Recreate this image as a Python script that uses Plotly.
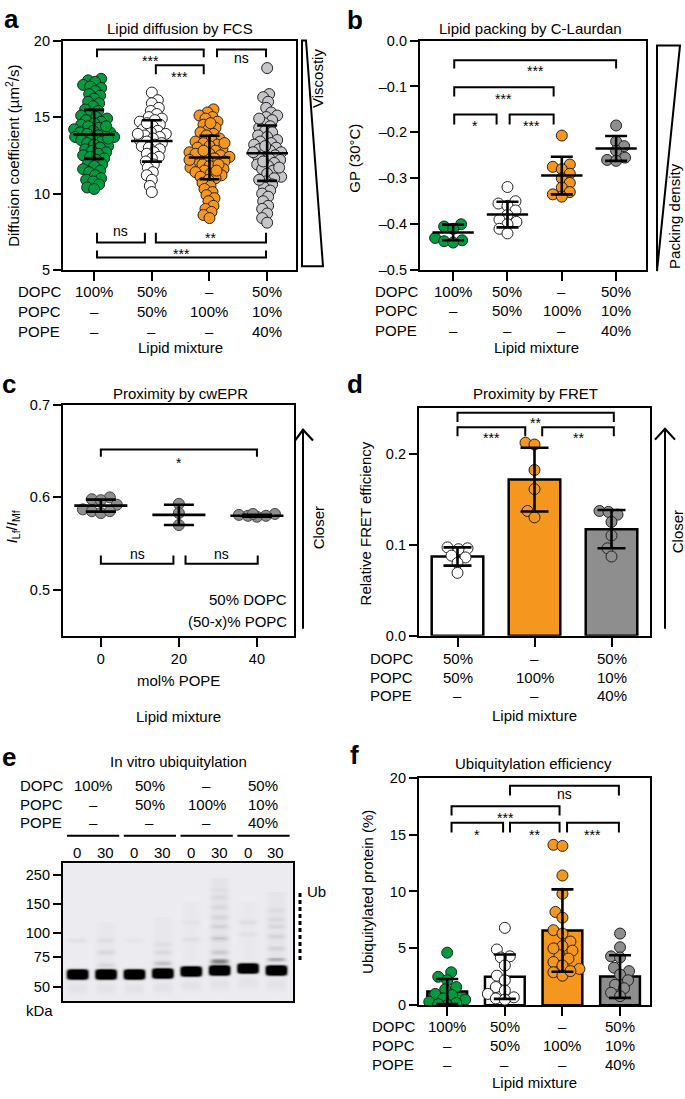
import math
import numpy as np
import plotly.graph_objects as go

W, H = 685, 1099
FONT = "Liberation Sans, Arial, Helvetica, sans-serif"

# ---------------- DATA ----------------
# Panel a: lipid diffusion (µm²/s)
a_dopc = [17.5,17.4,17.3,17.1,17.0,16.9,16.7,16.5,16.4,16.2,16.0,15.9,15.7,15.5,15.4,15.2,15.1,15.0,14.9,14.8,
          14.7,14.6,14.5,14.4,14.3,14.2,14.1,14.0,14.0,13.9,13.9,13.8,13.7,13.7,13.6,13.5,13.4,13.3,13.2,13.1,
          13.0,12.9,12.8,12.7,12.6,12.5,12.4,12.3,12.2,12.0,11.9,11.8,11.6,11.5,11.4,11.2,11.0,10.9,10.8,10.6,
          10.4,10.3,13.6,14.4]
a_mix = [16.6,16.1,15.9,15.6,15.4,15.2,15.0,14.9,14.8,14.7,14.5,14.4,14.2,14.1,14.0,13.9,13.8,13.7,13.6,13.5,
         13.4,13.3,13.2,13.1,13.0,12.9,12.7,12.6,12.4,12.3,12.1,11.9,11.7,11.4,11.2,10.9,10.5,10.1,13.9,14.6]
a_popc = [15.5,15.3,15.1,15.0,14.9,14.7,14.5,14.3,14.2,14.0,13.9,13.8,13.6,13.5,13.4,13.3,13.2,13.1,13.0,12.9,
          12.8,12.7,12.6,12.5,12.4,12.4,12.3,12.2,12.1,12.0,11.9,11.8,11.7,11.6,11.5,11.4,11.3,11.2,11.1,11.0,
          10.9,10.7,10.5,10.3,10.1,9.9,9.7,9.5,9.2,9.0,8.8,8.6,8.4,12.6,13.3,11.9,12.2,12.8,11.5,14.6]
a_pope = [18.2,16.5,16.3,16.0,15.6,15.3,15.1,15.0,14.8,14.6,14.4,14.3,14.1,14.0,13.8,13.7,13.5,13.4,13.3,13.2,
          13.0,12.9,12.8,12.7,12.6,12.5,12.4,12.3,12.2,12.0,11.9,11.8,11.6,11.5,11.3,11.1,11.0,10.8,10.6,10.4,
          10.2,10.0,9.8,9.5,9.2,9.0,8.7,8.4,8.1,12.7,13.1,11.7,12.1,14.9,10.9]
a_means = [13.87, 13.44, 12.36, 12.64]
a_sds = [1.60, 1.35, 1.42, 1.81]

# Panel b: GP (30 °C)
b_dopc = [-0.400, -0.405, -0.410, -0.430, -0.435, -0.437, -0.440]
b_mix = [-0.319, -0.350, -0.355, -0.360, -0.370, -0.380, -0.390, -0.395, -0.400, -0.410, -0.420]
b_popc = [-0.207, -0.270, -0.275, -0.280, -0.290, -0.300, -0.310, -0.320, -0.330, -0.335, -0.340]
b_pope = [-0.185, -0.220, -0.230, -0.240, -0.255, -0.260, -0.262]
b_means = [-0.418, -0.379, -0.294, -0.235]
b_sds = [0.017, 0.028, 0.041, 0.027]

# Panel c: cwEPR
c_x = [0, 20, 40]
c_0 = [0.598, 0.600, 0.597, 0.592, 0.587, 0.585, 0.583, 0.585]
c_20 = [0.593, 0.583, 0.570]
c_40 = [0.582, 0.580, 0.579, 0.582, 0.580, 0.581]
c_means = [0.591, 0.581, 0.580]
c_sds = [0.0065, 0.011, 0.001]

# Panel d: FRET
d_mix = [0.096, 0.097, 0.095, 0.088, 0.086, 0.080, 0.069]
d_popc = [0.212, 0.210, 0.182, 0.161, 0.137, 0.130]
d_pope = [0.137, 0.136, 0.133, 0.125, 0.110, 0.096, 0.087]
d_means = [0.087, 0.1715, 0.117]
d_sds = [0.010, 0.035, 0.021]

# Panel f: ubiquitylation efficiency (%)
f_dopc = [4.62, 2.9, 2.5, 2.2, 1.6, 1.4, 1.0, 0.9, 0.6, 0.5, 0.3, 0.2, 0.0, 0.1]
f_mix = [6.8, 4.9, 4.3, 4.2, 3.5, 2.6, 2.2, 1.6, 1.3, 1.0, 0.7, 0.6, 0.5]
f_popc = [14.1, 14.0, 11.4, 9.8, 8.2, 7.7, 6.6, 6.3, 5.6, 5.2, 4.8, 4.4, 4.1, 3.8, 3.5, 3.2, 2.9, 2.6, 3.0, 5.0]
f_pope = [6.3, 5.1, 4.3, 4.2, 3.3, 3.0, 2.7, 2.2, 1.8, 1.5, 1.1, 0.8]
f_means = [1.21, 2.51, 6.56, 2.52]
f_sds = [1.10, 1.95, 3.62, 1.87]

# Composition table
row_names = ["DOPC", "POPC", "POPE"]
comp4 = [["100%", "50%", "–", "50%"], ["–", "50%", "100%", "10%"], ["–", "–", "–", "40%"]]
comp3 = [["50%", "–", "50%"], ["50%", "100%", "10%"], ["–", "–", "40%"]]

# Panel e: gel (lanes, migration distance from gel top in px, intensity)
lanes = [1, 2, 3, 4, 5, 6, 7, 8]
lane_time = ["0", "30", "0", "30", "0", "30", "0", "30"]
mw_labels = ["250", "150", "100", "75", "50"]
mw_pos = [12, 41, 71, 95, 125]
main_pos = [113, 113, 113, 112, 110, 109, 107, 109]
main_int = [1.5, 1.5, 1.5, 1.5, 1.5, 1.5, 1.5, 1.5]
lad_lane = [6, 6, 6, 6, 6, 6, 6, 6, 8, 8, 8, 8, 8, 8, 4, 4, 4, 2, 2, 2, 1, 3, 5, 5, 7, 7]
lad_pos = [100, 90, 76, 64, 55, 45, 35, 27, 98, 86, 74, 64, 57, 48, 102, 90, 82, 104, 90, 78, 78, 78, 77, 60, 60, 72]
lad_int = [0.36, 0.11, 0.11, 0.08, 0.065, 0.055, 0.045, 0.03, 0.2, 0.08, 0.08, 0.065, 0.055, 0.045,
           0.15, 0.065, 0.04, 0.08, 0.075, 0.045, 0.055, 0.03, 0.045, 0.03, 0.055, 0.04]
smear_lane = [6, 8, 4, 2, 5, 7]
smear_top = [15, 30, 55, 60, 40, 40]
smear_bot = [102, 100, 104, 104, 100, 100]
smear_int = [0.035, 0.03, 0.02, 0.018, 0.012, 0.012]

# colours
GREEN = "#009b3e"
ORANGE = "#f5961e"
LGRAY = "#c6c6ca"
DGRAY = "#8e8e8e"
WHITE = "#ffffff"


def PX(x):
    return x / W


def PY(y):
    return 1 - y / H


def swarm(vals, ppx, ppy, d, maxw):
    order = sorted(range(len(vals)), key=lambda i: vals[i])
    placed = []
    offs = [0.0] * len(vals)
    flip = 1
    for i in order:
        y = vals[i] * ppy
        cands = [0.0]
        k = 1
        while k <= maxw:
            cands += [flip * k, -flip * k]
            k += 1
        flip = -flip
        best = None
        bestc, bests = 0.0, -1
        for c in cands:
            md = min([math.hypot(c - a, y - b) for a, b in placed], default=1e9)
            if md >= d:
                best = c
                break
            if md > bests:
                bests, bestc = md, c
        if best is None:
            best = bestc
        placed.append((best, y))
        offs[i] = best / ppx
    return offs


fig = go.Figure()
shapes = []
anns = []
FS = 15


def ann(text, x, y, size=FS, xref="paper", yref="paper", xanchor="center", yanchor="middle",
        angle=0, bold=False, color="black"):
    if bold:
        text = "<b>" + text + "</b>"
    anns.append(dict(text=text, x=x, y=y, xref=xref, yref=yref, xanchor=xanchor, yanchor=yanchor,
                     showarrow=False, textangle=angle, font=dict(family=FONT, size=size, color=color)))


def axname(n, kind):
    return kind if n == 1 else f"{kind}{n}"


def points(n, xs_center, groups, fills, ppx, ppy, d, maxw, size=11, outline="#222222"):
    for xc, vals, fc in zip(xs_center, groups, fills):
        offs = swarm(vals, ppx, ppy, d, maxw)
        fig.add_trace(go.Scatter(
            x=[xc + o for o in offs], y=vals, mode="markers", xaxis=axname(n, "x"), yaxis=axname(n, "y"),
            marker=dict(size=size, color=fc, line=dict(color=outline, width=1)), hoverinfo="skip"))


def meanlines(n, xs_center, means, hw):
    xs, ys = [], []
    for xc, m in zip(xs_center, means):
        xs += [xc - hw, xc + hw, None]
        ys += [m, m, None]
    fig.add_trace(go.Scatter(x=xs, y=ys, mode="lines", line=dict(color="black", width=2.6),
                             xaxis=axname(n, "x"), yaxis=axname(n, "y"), hoverinfo="skip"))


def errbars(n, xs_center, means, sds, capw):
    fig.add_trace(go.Scatter(
        x=xs_center, y=means, mode="markers", marker=dict(size=1, color="rgba(0,0,0,0)"),
        error_y=dict(type="data", array=sds, color="black", thickness=2.6, width=capw),
        xaxis=axname(n, "x"), yaxis=axname(n, "y"), hoverinfo="skip"))


def bracket(n, x0, x1, yline, yleg, label, ylab, size=14, yshift=0):
    xr, yr = axname(n, "x"), axname(n, "y")
    shapes.append(dict(type="path", xref=xr, yref=yr,
                       path=f"M{x0},{yleg} L{x0},{yline} L{x1},{yline} L{x1},{yleg}",
                       line=dict(color="black", width=2)))
    anns.append(dict(text=label, x=(x0 + x1) / 2, y=ylab, xref=xr, yref=yr, showarrow=False,
                     yanchor="middle", yshift=yshift, font=dict(family=FONT, size=size, color="black")))


def table(n, ncat, comp, rows_y, label_x, mix_x, mix_y):
    xr = axname(n, "x")
    for r, (name, yy) in enumerate(zip(row_names, rows_y)):
        ann(name, PX(label_x), PY(yy), xanchor="left")
        for i in range(ncat):
            ann(comp[r][i], i, PY(yy), xref=xr)
    ann("Lipid mixture", PX(mix_x), PY(mix_y))


# ---------------- Panel a ----------------
points(1, [0, 1, 2, 3], [a_dopc, a_mix, a_popc, a_pope], [GREEN, WHITE, ORANGE, LGRAY],
       57.7, 15.53, 6.3, 20)
meanlines(1, [0, 1, 2, 3], a_means, 0.36)
errbars(1, [0, 1, 2, 3], a_means, a_sds, 10)
bracket(1, 0.05, 1.9, 19.42, 18.9, "***", 18.95, yshift=-4)
bracket(1, 2.13, 2.98, 19.42, 18.9, "ns", 18.85)
bracket(1, 1.07, 1.9, 18.39, 17.8, "***", 17.9, yshift=-4)
bracket(1, 0.05, 0.88, 6.8, 7.44, "ns", 7.55)
bracket(1, 1.07, 2.98, 6.8, 7.44, "**", 7.35, yshift=-4)
bracket(1, 0.05, 2.98, 5.83, 6.28, "***", 6.3, yshift=-4)
table(1, 4, comp4, [288, 308, 328], 16, 180, 345)
ann("Lipid diffusion by FCS", PX(180), PY(21))
ann("Diffusion coefficient (µm<sup>2</sup>/s)", PX(13), PY(150), angle=-90)
ann("a", PX(2), PY(11), size=26, bold=True, xanchor="left")
shapes.append(dict(type="path", xref="paper", yref="paper",
                   path=f"M{PX(302)},{PY(33)} L{PX(306)},{PY(33)} L{PX(323)},{PY(262)} L{PX(302)},{PY(262)} Z",
                   line=dict(color="black", width=2)))
ann("Viscostiy", PX(318), PY(72), angle=-90)

# ---------------- Panel b ----------------
points(2, [0, 1, 2, 3], [b_dopc, b_mix, b_popc, b_pope], [GREEN, WHITE, ORANGE, DGRAY],
       54.3, 466, 9, 20)
meanlines(2, [0, 1, 2, 3], b_means, 0.38)
errbars(2, [0, 1, 2, 3], b_means, b_sds, 11)
bracket(2, 0.02, 3.0, -0.043, -0.061, "***", -0.058, yshift=-4)
bracket(2, 0.02, 1.85, -0.102, -0.122, "***", -0.119, yshift=-4)
bracket(2, 0.02, 0.8, -0.161, -0.183, "*", -0.178, yshift=-4)
bracket(2, 1.04, 1.85, -0.161, -0.183, "***", -0.178, yshift=-4)
table(2, 4, comp4, [288, 307, 327], 373, 536, 345)
ann("Lipid packing by C-Laurdan", PX(530), PY(21))
ann("GP (30°C)", PX(355), PY(153), angle=-90)
ann("b", PX(345), PY(12), size=26, bold=True, xanchor="left")
shapes.append(dict(type="path", xref="paper", yref="paper",
                   path=f"M{PX(657)},{PY(38)} L{PX(680)},{PY(38)} L{PX(657)},{PY(267)} Z",
                   line=dict(color="black", width=2)))
ann("Packing density", PX(675), PY(211), angle=-90)

# ---------------- Panel c ----------------
points(3, c_x, [c_0, c_20, c_40], [DGRAY, DGRAY, DGRAY], 3.9, 935, 9, 20, outline="#444444")
meanlines(3, c_x, c_means, 6.8)
errbars(3, c_x, c_means, c_sds, 15)
bracket(3, 0, 40, 0.652, 0.644, "*", 0.642, yshift=-4)
bracket(3, 0, 18.6, 0.528, 0.537, "ns", 0.539)
bracket(3, 21.7, 40.2, 0.528, 0.537, "ns", 0.539)
ann("Proximity by cwEPR", PX(180), PY(391))
ann("<i>I</i><sub>Lf</sub>/<i>I</i><sub>Mf</sub>", PX(12), PY(527), angle=-90)
ann("mol% POPE", PX(178), PY(682))
ann("Lipid mixture", PX(178), PY(719))
ann("50% DOPC", PX(289), PY(600), xanchor="right")
ann("(50-x)% POPC", PX(289), PY(623), xanchor="right")
ann("c", PX(0), PY(382), size=26, bold=True, xanchor="left")
shapes.append(dict(type="line", xref="paper", yref="paper", x0=PX(303), x1=PX(303), y0=PY(630), y1=PY(429),
                   line=dict(color="black", width=2)))
shapes.append(dict(type="path", xref="paper", yref="paper",
                   path=f"M{PX(295)},{PY(439)} L{PX(303)},{PY(428)} L{PX(313)},{PY(439)}",
                   line=dict(color="black", width=2.2)))
ann("Closer", PX(318), PY(528), angle=-90)

# ---------------- Panel d ----------------
fig.add_trace(go.Bar(x=[0, 1, 2], y=d_means, width=0.67, marker=dict(color=[WHITE, ORANGE, DGRAY],
                     line=dict(color="black", width=2.5)), xaxis="x4", yaxis="y4", hoverinfo="skip"))
points(4, [0, 1, 2], [d_mix, d_popc, d_pope], [WHITE, ORANGE, DGRAY], 77, 920, 9, 18)
errbars(4, [0, 1, 2], d_means, d_sds, 14)
bracket(4, 0.0, 2.03, 0.2448, 0.2347, "**", 0.2375, yshift=-4)
bracket(4, 0.0, 0.88, 0.229, 0.219, "***", 0.222, yshift=-4)
bracket(4, 1.1, 2.03, 0.229, 0.219, "**", 0.222, yshift=-4)
table(4, 3, comp3, [660, 679, 698], 368, 534, 718)
ann("Proximity by FRET", PX(535), PY(391))
ann("Relative FRET efficiency", PX(365), PY(523), angle=-90)
ann("d", PX(345), PY(382), size=26, bold=True, xanchor="left")
shapes.append(dict(type="line", xref="paper", yref="paper", x0=PX(665), x1=PX(665), y0=PY(630), y1=PY(428),
                   line=dict(color="black", width=2)))
shapes.append(dict(type="path", xref="paper", yref="paper",
                   path=f"M{PX(655)},{PY(438)} L{PX(665)},{PY(427)} L{PX(675)},{PY(438)}",
                   line=dict(color="black", width=2.2)))
ann("Closer", PX(677), PY(532), angle=-90)

# ---------------- Panel e (gel) ----------------
gx = np.linspace(0.5, 8.6, 231)
gy = np.arange(0, 141, 1.0)
GX, GY = np.meshgrid(gx, gy)
Z = np.zeros_like(GX)
for ln, ps, it in zip(lanes, main_pos, main_int):
    Z += it * np.exp(-((GX - ln) / 0.37) ** 6) * np.exp(-((GY - ps) / 5.0) ** 4)
    Z += 0.04 * np.exp(-((GX - ln) / 0.36) ** 6) * np.exp(-((GY - ps - 14) / 6) ** 2)
for ln, ps, it in zip(lad_lane, lad_pos, lad_int):
    Z += it * np.exp(-((GX - ln) / 0.33) ** 4) * np.exp(-((GY - ps) / 2.6) ** 2)
for ln, t0, t1, it in zip(smear_lane, smear_top, smear_bot, smear_int):
    Z += it * np.exp(-((GX - ln) / 0.33) ** 4) * ((GY >= t0) & (GY <= t1))
Z = np.clip(Z, 0, 1)
fig.add_trace(go.Heatmap(x=gx, y=gy, z=Z, zmin=0, zmax=1, showscale=False, xaxis="x5", yaxis="y5",
                         colorscale=[[0, "#ececf0"], [0.1, "#d6d6da"], [0.35, "#8c8c8e"], [0.7, "#2a2a2a"],
                                     [1, "#000000"]], hoverinfo="skip"))
ann("In vitro ubiquitylation", PX(178), PY(765))
ann("e", PX(0), PY(760), size=26, bold=True, xanchor="left")
for r, (name, yy) in enumerate(zip(row_names, [789, 808, 827])):
    ann(name, PX(18), PY(yy), xanchor="left")
    for k in range(4):
        ann(comp4[r][k], 2 * k + 1.56, PY(yy), xref="x5")
for k in range(4):
    c0 = 2 * k + 1.56
    shapes.append(dict(type="line", xref="x5", yref="paper", x0=c0 - 0.92, x1=c0 + 0.92, y0=PY(840),
                       y1=PY(840), line=dict(color="black", width=2.2)))
for ln, t in zip(lanes, lane_time):
    ann(t, ln, PY(857), xref="x5")
ann("kDa", PX(39), PY(1017))
shapes.append(dict(type="line", xref="paper", yref="paper", x0=PX(300), x1=PX(300), y0=PY(898), y1=PY(968),
                   line=dict(color="black", width=3, dash="4px,3px")))
ann("Ub", PX(305), PY(897), xanchor="left")

# ---------------- Panel f ----------------
fig.add_trace(go.Bar(x=[0, 1, 2, 3], y=f_means, width=0.69,
                     marker=dict(color=[GREEN, WHITE, ORANGE, DGRAY], line=dict(color="black", width=2.5)),
                     xaxis="x6", yaxis="y6", hoverinfo="skip"))
points(6, [0, 1, 2, 3], [f_dopc, f_mix, f_popc, f_pope], [GREEN, WHITE, ORANGE, DGRAY], 57.7, 11.55, 9, 18)
errbars(6, [0, 1, 2, 3], f_means, f_sds, 11)
bracket(6, 1.09, 2.98, 19.28, 18.44, "ns", 18.6)
bracket(6, 0.075, 1.95, 17.49, 16.68, "***", 16.8, yshift=-4)
bracket(6, 0.075, 0.97, 16.04, 15.17, "*", 15.3, yshift=-4)
bracket(6, 1.09, 1.95, 16.04, 15.17, "**", 15.3, yshift=-4)
bracket(6, 2.08, 2.98, 16.04, 15.17, "***", 15.3, yshift=-4)
table(6, 4, comp4, [1034, 1053, 1072], 370, 534, 1090)
ann("Ubiquitylation efficiency", PX(533), PY(767))
ann("Ubiquitylated protein (%)", PX(368), PY(897), angle=-90)
ann("f", PX(348), PY(758), size=26, bold=True, xanchor="left")

# ---------------- Axes ----------------
dom = {1: ((63, 296), (33, 266)), 2: ((420, 646), (33, 266)), 3: ((63, 294), (403, 637)),
       4: ((419, 650), (406, 637)), 5: ((63, 293), (868, 1008)), 6: ((419, 650), (781, 1012))}
xranges = {1: [-0.54, 3.5], 2: [-0.61, 3.55], 3: [-9.7, 49.5], 4: [-0.5, 2.5], 5: [0.5, 8.6], 6: [-0.49, 3.52]}
xticks = {1: [0, 1, 2, 3], 2: [0, 1, 2, 3], 3: c_x, 4: [0, 1, 2], 5: [], 6: [0, 1, 2, 3]}
yranges = {1: [5, 20], 2: [-0.5, 0], 3: [0.45, 0.7], 4: [0, 0.25], 5: [140, 0], 6: [0, 20]}
yticks = {1: ([5, 10, 15, 20], ["5", "10", "15", "20"]),
          2: ([-0.5, -0.4, -0.3, -0.2, -0.1, 0], ["–0.5", "–0.4", "–0.3", "–0.2", "–0.1", "0.0"]),
          3: ([0.5, 0.6, 0.7], ["0.5", "0.6", "0.7"]),
          4: ([0, 0.1, 0.2], ["0.0", "0.1", "0.2"]),
          5: (mw_pos, mw_labels),
          6: ([0, 5, 10, 15, 20], ["0", "5", "10", "15", "20"])}
layout = {}
for n in range(1, 7):
    (x0, x1), (y0, y1) = dom[n]
    common = dict(showline=True, linewidth=2.2, linecolor="black", mirror=True, showgrid=False,
                  zeroline=False, ticks="outside", tickwidth=2.2, tickcolor="black", fixedrange=True,
                  tickfont=dict(family=FONT, size=14.5, color="black"))
    xa = dict(domain=[PX(x0), PX(x1)], anchor=axname(n, "y"), range=xranges[n], ticklen=9,
              showticklabels=(n == 3), **common)
    if xticks[n]:
        xa.update(tickmode="array", tickvals=xticks[n], ticktext=[str(v) for v in xticks[n]])
    else:
        xa.update(ticks="")
    layout["xaxis" if n == 1 else f"xaxis{n}"] = xa
    tv, tt = yticks[n]
    layout["yaxis" if n == 1 else f"yaxis{n}"] = dict(
        domain=[PY(y1), PY(y0)], anchor=axname(n, "x"), range=yranges[n], tickmode="array",
        tickvals=tv, ticktext=tt, ticklen=8, **common)

fig.update_layout(**layout)
fig.update_layout(width=W, height=H, autosize=False, margin=dict(l=0, r=0, t=0, b=0),
                  paper_bgcolor="white", plot_bgcolor="white", showlegend=False,
                  font=dict(family=FONT, size=14, color="black"), shapes=shapes, annotations=anns,
                  barmode="overlay")
fig.write_html("out.html", config={"displayModeBar": False},
               post_script="document.body.style.margin='0';document.body.style.padding='0';"
                           "document.documentElement.style.overflow='hidden';")
